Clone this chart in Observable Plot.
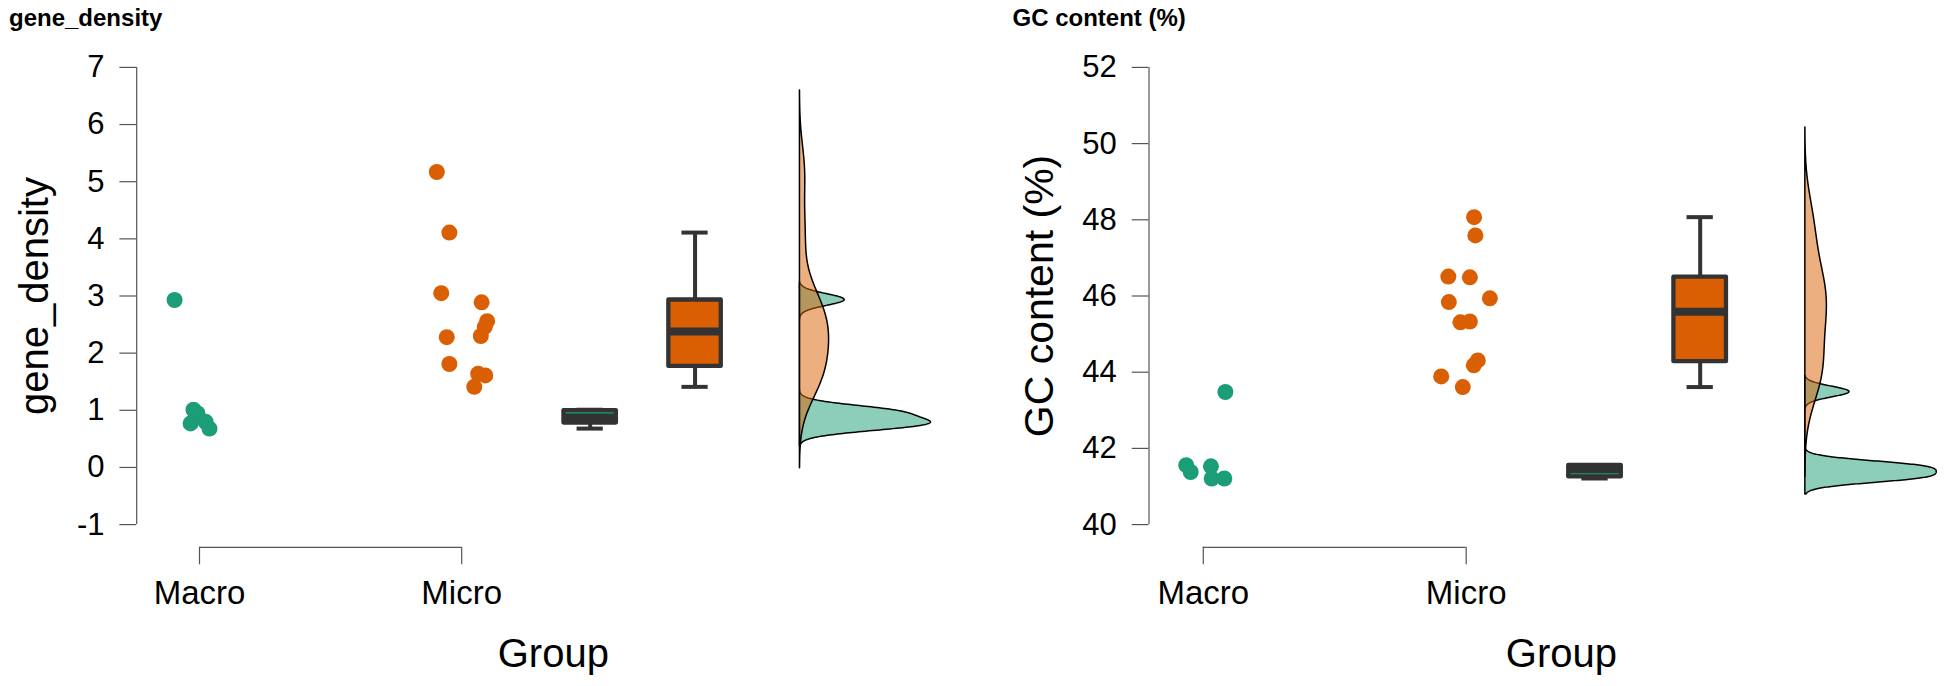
<!DOCTYPE html>
<html>
<head>
<meta charset="utf-8">
<script src="https://cdn.jsdelivr.net/npm/d3@7"></script>
<script src="https://cdn.jsdelivr.net/npm/@observablehq/plot@0.6"></script>
<style>
  html, body { margin: 0; padding: 0; background: #fff; }
  #wrap { display: flex; width: 1946px; height: 686px; overflow: hidden; }
  #wrap > div { width: 973px; height: 686px; }
</style>
</head>
<body>
<div id="wrap"><div id="p1"></div><div id="p2"></div></div>
<script>
// ---------- data ----------
const groups = ["Macro", "Micro"];
const geneMacro = [2.93, 1.01, 0.95, 0.77, 0.80, 0.68];
const geneMicro = [5.17, 4.11, 3.05, 2.89, 2.56, 2.46, 2.30, 2.28, 1.81, 1.64, 1.61, 1.41];
const gcMacro = [41.56, 41.38, 41.53, 41.21, 41.21, 43.48];
const gcMicro = [48.07, 47.59, 46.51, 46.49, 45.84, 45.94, 45.31, 45.33, 44.31, 44.18, 43.89, 43.61];
// horizontal jitter of each point (fraction of group spacing)
const geneMacroJitter = [-0.095, -0.023, -0.008, -0.034, 0.023, 0.038];
const geneMicroJitter = [-0.095, -0.047, -0.078, 0.076, 0.097, 0.088, 0.073, -0.057, -0.047, 0.063, 0.090, 0.048];
const gcMacroJitter = [-0.065, -0.048, 0.029, 0.032, 0.080, 0.084];
const gcMicroJitter = [0.030, 0.035, -0.068, 0.014, -0.066, 0.090, -0.022, 0.014, 0.044, 0.029, -0.095, -0.013];
const geneTicks = [-1, 0, 1, 2, 3, 4, 5, 6, 7];
const gcTicks = [40, 42, 44, 46, 48, 50, 52];
const geneTitle = "gene_density";
const gcTitle = "GC content (%)";
const xTitle = "Group";

// ---------- layout / style ----------
const colors = ["#1b9e77", "#d95f02"];
const groupPos = [1, 2];
const boxPos = [2.49, 2.89];
const densityPos = 3.29;
const densityWidth = 0.5;
const boxHalf = 0.1, capHalf = 0.05;
const axisColor = "#555";
const boxLine = "#333";
const font = "'Liberation Sans', Arial, Helvetica, sans-serif";

function boxStats(vals) {
  const s = vals.slice().sort(d3.ascending);
  const q1 = d3.quantile(s, 0.25), med = d3.quantile(s, 0.5), q3 = d3.quantile(s, 0.75);
  const iqr = q3 - q1;
  const lo = d3.min(s.filter(v => v >= q1 - 1.5 * iqr));
  const hi = d3.max(s.filter(v => v <= q3 + 1.5 * iqr));
  return {q1, med, q3, lo, hi};
}
function bwNrd0(vals) {
  const s = vals.slice().sort(d3.ascending);
  const iqr = d3.quantile(s, 0.75) - d3.quantile(s, 0.25);
  const lo = Math.min(d3.deviation(s), iqr / 1.34);
  return 0.9 * lo * Math.pow(s.length, -0.2);
}
function kde(vals, n = 512) {
  const bw = bwNrd0(vals);
  const lo = d3.min(vals) - 3 * bw, hi = d3.max(vals) + 3 * bw;
  const c = 1 / (vals.length * bw * Math.sqrt(2 * Math.PI));
  return d3.range(n).map(i => {
    const y = lo + (hi - lo) * i / (n - 1);
    return {y, d: c * d3.sum(vals, v => Math.exp(-0.5 * ((y - v) / bw) ** 2))};
  });
}

function panel(el, cfg) {
  const {series, jitters, ticks, yTitle, title, marginLeft, xOffsetPx, xUnitPx,
         yTitleDx, yTitleSize, xTitleDx, titleX} = cfg;
  const W = 973, H = 686, top = 66.9, tickSpan = 457.2, axisGap = 22.7;
  const yUnit = tickSpan / (ticks[ticks.length - 1] - ticks[0]);
  const yLo = ticks[0] - axisGap / yUnit;
  const yHi = ticks[ticks.length - 1];
  const marginBottom = H - top - tickSpan - axisGap;
  const xLo = 1 - xOffsetPx / xUnitPx;
  const xHi = xLo + (W - marginLeft) / xUnitPx;

  const points = [];
  series.forEach((vals, g) => vals.forEach((v, i) =>
    points.push({group: groups[g], x: groupPos[g] + jitters[g][i], value: v})));
  const stats = series.map((vals, g) => ({group: groups[g], pos: boxPos[g], ...boxStats(vals)}));
  const dens = series.map(vals => kde(vals));
  const maxD = d3.max(dens.flat(), d => d.d);
  const dScale = densityWidth / maxD;

  const marks = [
    Plot.ruleX([xLo], {y1: ticks[0], y2: yHi, stroke: axisColor, strokeWidth: 1.2}),
    Plot.axisY({ticks, tickFormat: d => String(d), tickSize: 16.8, tickPadding: 15.4,
                fontSize: 31, stroke: axisColor, strokeWidth: 1.2, fill: "black", label: null}),
    Plot.ruleY([yLo], {x1: groupPos[0], x2: groupPos[1], stroke: axisColor, strokeWidth: 1.2}),
    Plot.axisX({ticks: groupPos, tickFormat: d => groups[groupPos.indexOf(d)], tickSize: 17.5,
                tickPadding: 15.3, fontSize: 33, stroke: axisColor, strokeWidth: 1.2, fill: "black", label: null}),
    Plot.dot(points, {x: "x", y: "value", r: 8, fill: "group"}),
    Plot.ruleX(stats, {x: "pos", y1: "lo", y2: "hi", stroke: boxLine, strokeWidth: 4}),
    Plot.ruleY(stats, {y: "hi", x1: d => d.pos - capHalf, x2: d => d.pos + capHalf, stroke: boxLine, strokeWidth: 4}),
    Plot.ruleY(stats, {y: "lo", x1: d => d.pos - capHalf, x2: d => d.pos + capHalf, stroke: boxLine, strokeWidth: 4}),
    Plot.rect(stats, {x1: d => d.pos - boxHalf, x2: d => d.pos + boxHalf, y1: "q1", y2: "q3",
                      fill: "group", stroke: boxLine, strokeWidth: 4.3, strokeLinejoin: "round"}),
    Plot.ruleY(stats, {y: "med", x1: d => d.pos - boxHalf, x2: d => d.pos + boxHalf, stroke: boxLine, strokeWidth: 8}),
    ...dens.map((dd, g) => Plot.areaX(dd, {y: "y", x1: densityPos, x2: d => densityPos + d.d * dScale,
                      fill: colors[g], fillOpacity: 0.5, stroke: "black", strokeWidth: 1.5, strokeLinejoin: "round"})),
    Plot.text([yTitle], {frameAnchor: "left", rotate: -90, lineAnchor: "bottom", textAnchor: "middle",
                      dx: yTitleDx, dy: (top + tickSpan / 2) - (top + (H - marginBottom)) / 2,
                      fontSize: yTitleSize, fill: "black"}),
    Plot.text([xTitle], {frameAnchor: "bottom", lineAnchor: "bottom", textAnchor: "middle",
                      dx: xTitleDx, dy: 666.7 - (H - marginBottom), fontSize: 40, fill: "black"}),
    Plot.text([title], {frameAnchor: "top-left", lineAnchor: "bottom", textAnchor: "start",
                      dx: titleX - marginLeft, dy: 25.6 - top, fontSize: 24, fontWeight: "bold", fill: "black"})
  ];

  const chart = Plot.plot({
    width: W, height: H,
    marginLeft, marginRight: 0, marginTop: top, marginBottom,
    x: {domain: [xLo, xHi]},
    y: {domain: [yLo, yHi]},
    color: {domain: groups, range: colors},
    style: {fontFamily: font, background: "white", overflow: "visible"},
    marks
  });
  document.getElementById(el).appendChild(chart);
}

panel("p1", {
  series: [geneMacro, geneMicro], jitters: [geneMacroJitter, geneMicroJitter],
  ticks: geneTicks, yTitle: geneTitle, title: geneTitle,
  marginLeft: 136.2, xOffsetPx: 62.8, xUnitPx: 262.2,
  yTitleDx: -88.5, yTitleSize: 40, xTitleDx: -1.8, titleX: 8.5
});
panel("p2", {
  series: [gcMacro, gcMicro], jitters: [gcMacroJitter, gcMicroJitter],
  ticks: gcTicks, yTitle: gcTitle, title: gcTitle,
  marginLeft: 175.5, xOffsetPx: 54.3, xUnitPx: 262.9,
  yTitleDx: -96.5, yTitleSize: 41, xTitleDx: 13.7, titleX: 39
});
</script>
</body>
</html>
